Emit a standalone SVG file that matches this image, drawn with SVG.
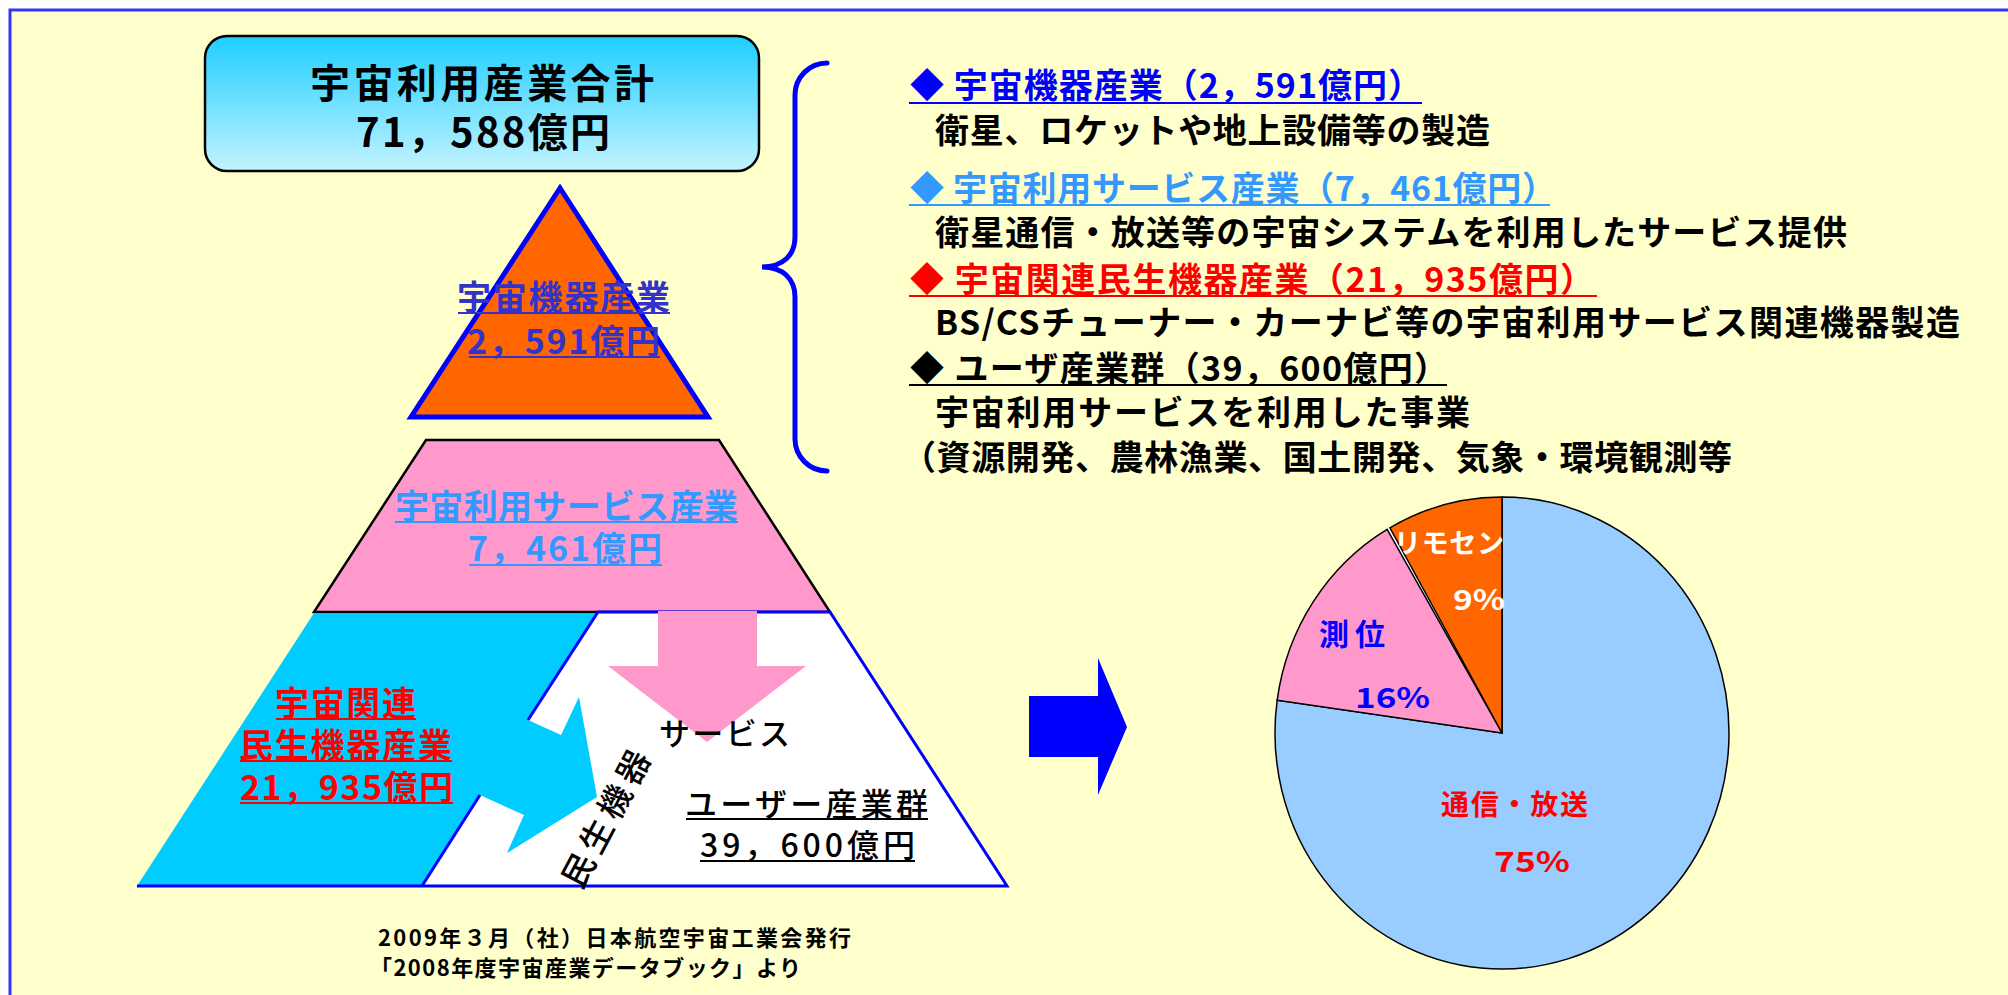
<svg xmlns="http://www.w3.org/2000/svg" width="2008" height="995" viewBox="0 0 2008 995">
<defs>
<linearGradient id="gTot" x1="0" y1="0" x2="0" y2="1">
<stop offset="0" stop-color="#1ECEFF"/>
<stop offset="1" stop-color="#C4F3FF"/>
</linearGradient>
<style>
text{font-family:"Noto Sans CJK JP","Noto Sans CJK SC",sans-serif;font-weight:700;}
.m{font-weight:500;}
.ul{stroke-width:2.2;}
.body{font-size:34px;fill:#000;}
.pie{stroke:#000;stroke-width:1.5;}
</style>
</defs>
<rect x="0" y="0" width="2008" height="995" fill="#FFFFFF"/>
<rect id="frame" x="10" y="10" width="2100" height="1100" fill="#FFFFCC" stroke="#3333FF" stroke-width="3"/>

<g id="total">
<rect x="205" y="36" width="554" height="135" rx="22" ry="22" fill="url(#gTot)" stroke="#000" stroke-width="2.5"/>
<text x="310" y="98" font-size="40" textLength="344">宇宙利用産業合計</text>
<text x="356" y="147" font-size="40" textLength="254">71，588億円</text>
</g>

<g id="pyramid-service">
<polygon points="426,440 719,440 830,612 314,612" fill="#FF99CC" stroke="#000" stroke-width="2.5"/>
<text x="395" y="519" font-size="34" fill="#3399FF" textLength="343">宇宙利用サービス産業</text>
<line x1="395" y1="522" x2="738" y2="522" stroke="#3399FF" class="ul"/>
<text x="468" y="561" font-size="34" fill="#3399FF" textLength="194">7，461億円</text>
<line x1="469" y1="565" x2="662" y2="565" stroke="#3399FF" class="ul"/>
</g>

<g id="pyramid-top">
<polygon points="560,188 411,417 708,417" fill="#FF6600" stroke="#0000FF" stroke-width="5" stroke-linejoin="miter"/>
<text x="457" y="310" font-size="34" fill="#3333CC" textLength="213">宇宙機器産業</text>
<line x1="458" y1="313" x2="670" y2="313" stroke="#3333CC" class="ul"/>
<text x="467" y="354" font-size="34" fill="#3333CC" textLength="193">2，591億円</text>
<line x1="469" y1="357" x2="660" y2="357" stroke="#3333CC" class="ul"/>
</g>

<g id="pyramid-bottom">
<polygon points="598,612 830,612 1007,886 422,886" fill="#FFFFFF"/>
<polygon points="314,613 598,613 528,720 561,735 579,697 597,797 507,853 524,815 480,795 422,886 137,886" fill="#00CCFF"/>
<polyline points="528,720 598,612 830,612 1007,886 137,886" fill="none" stroke="#0000FF" stroke-width="3"/>
<line x1="480" y1="795" x2="422" y2="886" stroke="#0000FF" stroke-width="3"/>
<text x="275" y="716" font-size="34" fill="#FF0000" textLength="141">宇宙関連</text>
<line x1="276" y1="719" x2="416" y2="719" stroke="#FF0000" class="ul"/>
<text x="239" y="758" font-size="34" fill="#FF0000" textLength="213">民生機器産業</text>
<line x1="240" y1="761" x2="452" y2="761" stroke="#FF0000" class="ul"/>
<text x="240" y="800" font-size="34" fill="#FF0000" textLength="213">21，935億円</text>
<line x1="240" y1="803" x2="453" y2="803" stroke="#FF0000" class="ul"/>
</g>

<g id="connectors">
<polygon points="658,611 757,611 757,666 806,666 707,742 608,666 658,666" fill="#FF99CC"/>
<polygon points="1029,696 1098,696 1098,658 1127,727 1098,795 1098,757 1029,757" fill="#0000FF"/>
<path d="M827,63 A32,32 0 0 0 795,95 L795,237 C795,255 783,267 762,267 C783,267 795,279 795,297 L795,439 A32,32 0 0 0 827,471" fill="none" stroke="#0000FF" stroke-width="5" stroke-linecap="round"/>
</g>

<g id="user-industry">
<text x="659" y="745" font-size="31" class="m" fill="#000" textLength="131">サービス</text>
<text transform="translate(604,818) rotate(-62)" x="0" y="0" font-size="33" class="m" fill="#000" text-anchor="middle" dominant-baseline="central" textLength="150">民生機器</text>
<text x="685" y="816" font-size="32" class="m" fill="#000" textLength="243">ユーザー産業群</text>
<line x1="686" y1="819" x2="928" y2="819" stroke="#000" class="ul"/>
<text x="700" y="857" font-size="32" class="m" fill="#000" textLength="215">39，600億円</text>
<line x1="700" y1="861" x2="915" y2="861" stroke="#000" class="ul"/>
</g>

<g id="legend">
<text x="910" y="98" font-size="34" fill="#0000FF" textLength="512">◆ 宇宙機器産業（2，591億円）</text>
<line x1="909" y1="103" x2="1422" y2="103" stroke="#0000FF" class="ul"/>
<text x="935" y="143" class="body" textLength="555">衛星、ロケットや地上設備等の製造</text>
<text x="910" y="201" font-size="34" fill="#3399FF" textLength="646">◆ 宇宙利用サービス産業（7，461億円）</text>
<line x1="909" y1="205" x2="1550" y2="205" stroke="#3399FF" class="ul"/>
<text x="935" y="245" class="body" textLength="912">衛星通信・放送等の宇宙システムを利用したサービス提供</text>
<text x="910" y="292" font-size="34" fill="#FF0000" textLength="684">◆ 宇宙関連民生機器産業（21，935億円）</text>
<line x1="909" y1="296" x2="1597" y2="296" stroke="#FF0000" class="ul"/>
<text x="935" y="335" class="body" textLength="1025">BS/CSチューナー・カーナビ等の宇宙利用サービス関連機器製造</text>
<text x="910" y="381" font-size="34" fill="#000" textLength="538">◆ ユーザ産業群（39，600億円）</text>
<line x1="909" y1="385" x2="1447" y2="385" stroke="#000" class="ul"/>
<text x="935" y="425" class="body" textLength="535">宇宙利用サービスを利用した事業</text>
<text x="902" y="470" class="body" textLength="830">（資源開発、農林漁業、国土開発、気象・環境観測等</text>
</g>

<g id="pie">
<path class="pie" d="M1502,733 L1502,497 A227,236 0 1 1 1277.2,700.2 Z" fill="#99CCFF"/>
<path d="M1502,733 L1387.1,529.4 A227,236 0 0 1 1389.9,527.8 Z" fill="#FFFFFF"/>
<path class="pie" d="M1502,733 L1277.2,700.2 A227,236 0 0 1 1387.1,529.4 Z" fill="#FF99CC"/>
<path class="pie" d="M1502,733 L1389.9,527.8 A227,236 0 0 1 1502,497 Z" fill="#FF6600"/>
<text x="1394" y="553" font-size="27" fill="#FFFFFF" textLength="110">リモセン</text>
<text x="1453" y="610" font-size="28" fill="#FFFFFF" textLength="52" lengthAdjust="spacingAndGlyphs">9%</text>
<text x="1319" y="645" font-size="30" fill="#0000FF" textLength="66">測位</text>
<text x="1355" y="708" font-size="28" fill="#0000FF" textLength="75" lengthAdjust="spacingAndGlyphs">16%</text>
<text x="1441" y="815" font-size="28" fill="#FF0000" textLength="147">通信・放送</text>
<text x="1494" y="872" font-size="28" fill="#FF0000" textLength="76" lengthAdjust="spacingAndGlyphs">75%</text>
</g>

<g id="source">
<text x="378" y="946" font-size="22" fill="#000" textLength="473">2009年３月（社）日本航空宇宙工業会発行</text>
<text x="370" y="976" font-size="22" fill="#000" textLength="431">「2008年度宇宙産業データブック」より</text>
</g>
</svg>
